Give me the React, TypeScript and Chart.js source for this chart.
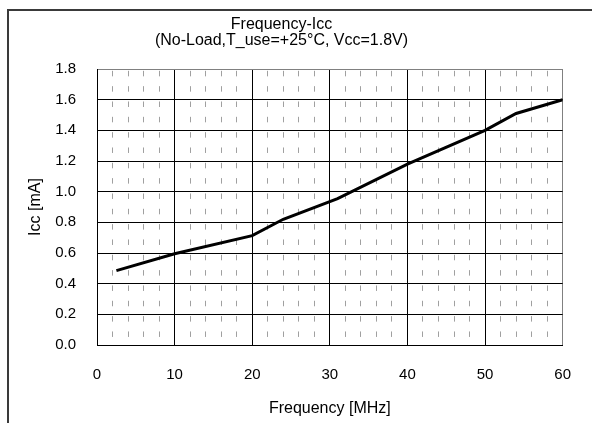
import React, { useEffect, useRef } from "react";
import { Chart, registerables } from "chart.js";

Chart.register(...registerables);

const freqMHz = [2.5, 10, 20, 24, 31, 40, 50, 54, 60];
const iccMA = [0.485, 0.595, 0.713, 0.82, 0.955, 1.18, 1.4, 1.51, 1.6];
const titleLines = ["Frequency-Icc", "(No-Load,T_use=+25°C, Vcc=1.8V)"];
const xTitle = "Frequency [MHz]";
const yTitle = "Icc [mA]";
const xMin = 0;
const xMax = 60;
const xMajorStep = 10;
const xMinorStep = 2;
const yMin = 0;
const yMax = 1.8;
const yStep = 0.2;

const FONT = "'Liberation Sans', Arial, sans-serif";

export default function App() {
  const ref = useRef<HTMLCanvasElement | null>(null);

  useEffect(() => {
    if (!ref.current) return;
    const chart = new Chart(ref.current, {
      type: "line",
      data: {
        datasets: [
          {
            data: freqMHz.map((f, i) => ({ x: f, y: iccMA[i] })),
            borderColor: "#000",
            borderWidth: 3,
            pointRadius: 0,
            tension: 0,
            fill: false,
            xAxisID: "x",
            yAxisID: "y",
          },
        ],
      },
      options: {
        animation: false,
        responsive: false,
        devicePixelRatio: 1,
        layout: { padding: { left: 0, right: 29, top: 0, bottom: 0 } },
        plugins: {
          legend: { display: false },
          tooltip: { enabled: false },
          title: {
            display: true,
            text: titleLines,
            color: "#000",
            font: { family: FONT, size: 16, weight: "normal", lineHeight: 1.0 },
            padding: { top: 17, bottom: 20 },
          },
        },
        scales: {
          x: {
            type: "linear",
            position: "bottom",
            min: xMin,
            max: xMax,
            afterFit: (s: any) => {
              s.height = 78;
            },
            ticks: {
              stepSize: xMajorStep,
              color: "#000",
              font: { family: FONT, size: 15 },
              padding: 21,
              maxRotation: 0,
              autoSkip: false,
            },
            grid: {
              lineWidth: 1,
              drawTicks: false,
              color: (ctx: any) => (ctx.tick && ctx.tick.value === xMax ? "#808080" : "#000"),
            },
            border: { color: "#000", width: 1 },
            title: {
              display: true,
              text: xTitle,
              color: "#000",
              font: { family: FONT, size: 16 },
              padding: { top: 0, bottom: 5 },
            },
          },
          x2: {
            type: "linear",
            position: "bottom",
            min: xMin,
            max: xMax,
            ticks: { display: false, stepSize: xMinorStep, autoSkip: false },
            grid: {
              drawTicks: false,
              lineWidth: 1,
              color: (ctx: any) => {
                const v = ctx.tick ? ctx.tick.value : 0;
                return Math.abs(v % xMajorStep) < 1e-6 ? "rgba(0,0,0,0)" : "#a0a0a0";
              },
            },
            border: { display: false, dash: [5.5, 9.83], dashOffset: 13.5 },
          },
          y: {
            type: "linear",
            position: "left",
            min: yMin,
            max: yMax,
            afterFit: (s: any) => {
              s.width = 97;
            },
            ticks: {
              stepSize: yStep,
              color: "#000",
              font: { family: FONT, size: 15 },
              padding: 21,
              callback: (v: any) => Number(v).toFixed(1),
            },
            grid: {
              lineWidth: 1,
              drawTicks: false,
              color: (ctx: any) =>
                ctx.tick && Math.abs(ctx.tick.value - yMax) < 1e-6 ? "#808080" : "#000",
            },
            border: { color: "#000", width: 1 },
            title: {
              display: true,
              text: yTitle,
              color: "#000",
              font: { family: FONT, size: 16 },
              padding: { top: 26, bottom: 0 },
            },
          },
        },
      },
    });
    return () => chart.destroy();
  }, []);

  return (
    <div style={{ position: "absolute", left: 0, top: 0, width: 592, height: 423, overflow: "hidden", background: "#fff" }}>
      <div
        style={{
          position: "absolute",
          left: 7,
          top: 9,
          width: 620,
          height: 440,
          border: "2px solid #3a3a3a",
          boxSizing: "border-box",
        }}
      />
      <canvas
        ref={ref}
        width={592}
        height={423}
        style={{ position: "absolute", left: 0, top: 0, width: 592, height: 423 }}
      />
    </div>
  );
}
